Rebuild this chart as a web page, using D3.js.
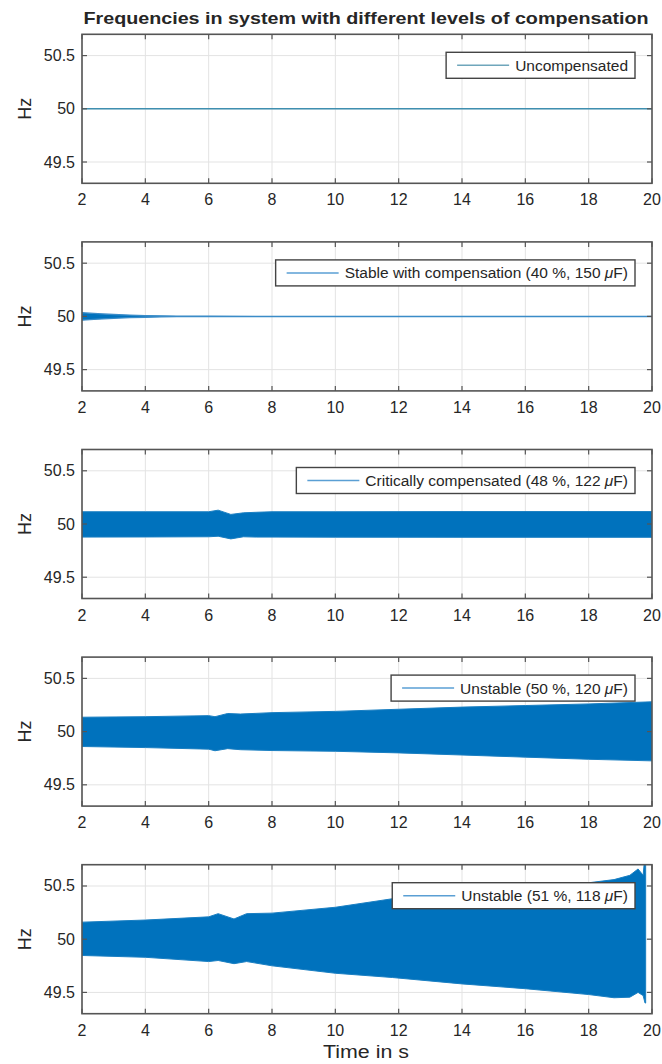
<!DOCTYPE html>
<html><head><meta charset="utf-8">
<script src="https://cdn.jsdelivr.net/npm/d3@7"></script>
<style>
html,body{margin:0;padding:0;background:#fff;}
svg text{font-family:"Liberation Sans",Arial,Helvetica,sans-serif;fill:#262626;}
</style></head>
<body><svg id="chart" width="662" height="1064"></svg>
<script>
// ---- data ----
const chartTitle = "Frequencies in system with different levels of compensation";
const xLabel = "Time in s";
const yLabel = "Hz";
const xTicks = [2,4,6,8,10,12,14,16,18,20];
const yTicks = [49.5,50,50.5];
const legendMain = ["Uncompensated","Stable with compensation (40 %, 150 ","Critically compensated (48 %, 122 ","Unstable (50 %, 120 ","Unstable (51 %, 118 "];
const legendUnit = ["","F)","F)","F)","F)"];

// envelope data (time in s, upper / lower frequency in Hz)
const time1  = [2, 20];
const upper1 = [50.0, 50.0];
const lower1 = [50.0, 50.0];

const time2  = [2, 2.5, 3, 3.5, 4, 4.5, 5, 6, 8, 20];
const upper2 = [50.035, 50.026, 50.018, 50.012, 50.008, 50.005, 50.003, 50.0015, 50.001, 50.001];
const lower2 = [49.965, 49.974, 49.982, 49.988, 49.992, 49.995, 49.997, 49.9985, 49.999, 49.999];

const time3  = [2, 4, 6, 6.3, 6.7, 7.1, 7.5, 8, 10, 14, 20];
const upper3 = [50.115, 50.115, 50.115, 50.13, 50.09, 50.105, 50.11, 50.115, 50.115, 50.117, 50.117];
const lower3 = [49.877, 49.878, 49.88, 49.885, 49.86, 49.88, 49.877, 49.877, 49.876, 49.875, 49.875];

const time4  = [2, 4, 6, 6.2, 6.6, 7, 8, 10, 12, 14, 16, 18, 20];
const upper4 = [50.135, 50.14, 50.15, 50.14, 50.17, 50.165, 50.178, 50.19, 50.21, 50.23, 50.245, 50.26, 50.28];
const lower4 = [49.86, 49.85, 49.835, 49.82, 49.84, 49.83, 49.822, 49.815, 49.8, 49.78, 49.76, 49.74, 49.725];

const time5  = [2, 4, 6, 6.3, 6.8, 7.2, 8, 10, 11.8, 14, 16, 18, 18.8, 19.3, 19.56, 19.72, 19.78, 19.8];
const upper5 = [50.16, 50.18, 50.21, 50.24, 50.19, 50.24, 50.245, 50.30, 50.38, 50.43, 50.47, 50.53, 50.56, 50.6, 50.66, 50.6, 50.8, 50.8];
const lower5 = [49.847, 49.83, 49.79, 49.8, 49.77, 49.79, 49.75, 49.68, 49.64, 49.58, 49.535, 49.48, 49.45, 49.455, 49.5, 49.47, 49.4, 49.4];

const panels = [
  {t:time1, up:upper1, lo:lower1},
  {t:time2, up:upper2, lo:lower2},
  {t:time3, up:upper3, lo:lower3},
  {t:time4, up:upper4, lo:lower4},
  {t:time5, up:upper5, lo:lower5}
];

// ---- layout ----
const svg = d3.select("#chart");
const left = 82, right = 652;
const top0 = 34.3, step = 207.6, ph = 149;
const blue = "#0072BD";
const fs = 16;

svg.append("text").attr("x", 366).attr("y", 24).attr("text-anchor","middle")
  .attr("font-weight","bold").attr("font-size", 17)
  .attr("textLength", 565).attr("lengthAdjust","spacingAndGlyphs").text(chartTitle);

const x = d3.scaleLinear().domain([2,20]).range([left,right]);

panels.forEach((p,i) => {
  const top = top0 + i*step, bot = top + ph;
  const y = d3.scaleLinear().domain([49.3,50.7]).range([bot, top]);
  const g = svg.append("g");
  const cid = "clip"+i;
  svg.append("clipPath").attr("id",cid).append("rect")
    .attr("x",left).attr("y",top).attr("width",right-left).attr("height",ph);

  // grid
  g.append("g").selectAll("line").data(xTicks).join("line")
    .attr("x1",d=>x(d)).attr("x2",d=>x(d)).attr("y1",top).attr("y2",bot)
    .attr("stroke","#e3e3e3").attr("stroke-width",1);
  g.append("g").selectAll("line").data(yTicks).join("line")
    .attr("y1",d=>y(d)).attr("y2",d=>y(d)).attr("x1",left).attr("x2",right)
    .attr("stroke","#e3e3e3").attr("stroke-width",1);

  // data
  const rows = p.t.map((t,k)=>({t, u:p.up[k], l:p.lo[k]}));
  const plot = g.append("g").attr("clip-path",`url(#${cid})`);
  if (i === 0) {
    plot.append("path").datum(rows)
      .attr("d", d3.line().x(d=>x(d.t)).y(d=>y(d.u)))
      .attr("fill","none").attr("stroke","#3f8fb0").attr("stroke-width",1.6);
  } else {
    plot.append("path").datum(rows)
      .attr("d", d3.area().x(d=>x(d.t)).y0(d=>y(d.l)).y1(d=>y(d.u)))
      .attr("fill",blue).attr("stroke", i===1 ? "#3b8cc8" : "#1a7fc2").attr("stroke-width", i===1 ? 1.3 : 1);
  }

  // axes with inward ticks (all four sides)
  const ax = g.append("g");
  xTicks.forEach(d=>{
    ax.append("line").attr("x1",x(d)).attr("x2",x(d)).attr("y1",bot).attr("y2",bot-5).attr("stroke","#555").attr("stroke-width",1.2);
    ax.append("line").attr("x1",x(d)).attr("x2",x(d)).attr("y1",top).attr("y2",top+5).attr("stroke","#555").attr("stroke-width",1.2);
  });
  yTicks.forEach(d=>{
    ax.append("line").attr("y1",y(d)).attr("y2",y(d)).attr("x1",left).attr("x2",left+5).attr("stroke","#555").attr("stroke-width",1.2);
    ax.append("line").attr("y1",y(d)).attr("y2",y(d)).attr("x1",right).attr("x2",right-5).attr("stroke","#555").attr("stroke-width",1.2);
  });
  ax.append("rect").attr("x",left).attr("y",top).attr("width",right-left).attr("height",ph)
    .attr("fill","none").attr("stroke","#555").attr("stroke-width",1.6);

  // tick labels
  g.append("g").selectAll("text").data(xTicks).join("text")
    .attr("x",d=>x(d)).attr("y",bot+22).attr("text-anchor","middle").attr("font-size",fs)
    .text(d=>d3.format("d")(d));
  g.append("g").selectAll("text").data(yTicks).join("text")
    .attr("x",left-7).attr("y",d=>y(d)+5.5).attr("text-anchor","end").attr("font-size",fs)
    .text(d=>d===50?"50":d3.format(".1f")(d));

  // y label
  g.append("text").attr("transform",`translate(31,${y(50)}) rotate(-90)`)
    .attr("text-anchor","middle").attr("font-size",18).text(yLabel);

  // legend
  const lg = g.append("g");
  const txt = lg.append("text").attr("font-size",15.5).attr("y", 0);
  txt.append("tspan").text(legendMain[i]);
  if (legendUnit[i]) {
    txt.append("tspan").attr("font-style","italic").text("\u03BC");
    txt.append("tspan").text(legendUnit[i]);
  }
  const tw = txt.node().getComputedTextLength();
  const boxR = right - 17, boxT = top + 18, boxH = 26;
  const textX = boxR - 7 - tw;
  const lineX2 = textX - 6, lineX1 = lineX2 - 52;
  const boxL = lineX1 - 11;
  lg.insert("rect","text").attr("x",boxL).attr("y",boxT).attr("width",boxR-boxL).attr("height",boxH)
    .attr("fill","#fff").attr("stroke","#444").attr("stroke-width",1.4);
  lg.insert("line","text").attr("x1",lineX1).attr("x2",lineX2).attr("y1",boxT+boxH/2).attr("y2",boxT+boxH/2)
    .attr("stroke", i===0 ? "#6fa6bb" : "#5a9fd4").attr("stroke-width",1.5);
  txt.attr("x",textX).attr("y",boxT+boxH/2+5.5);
});

svg.append("text").attr("x",366).attr("y",1058).attr("text-anchor","middle").attr("font-size",18)
  .attr("textLength", 86).attr("lengthAdjust","spacingAndGlyphs").text(xLabel);
</script></body></html>
